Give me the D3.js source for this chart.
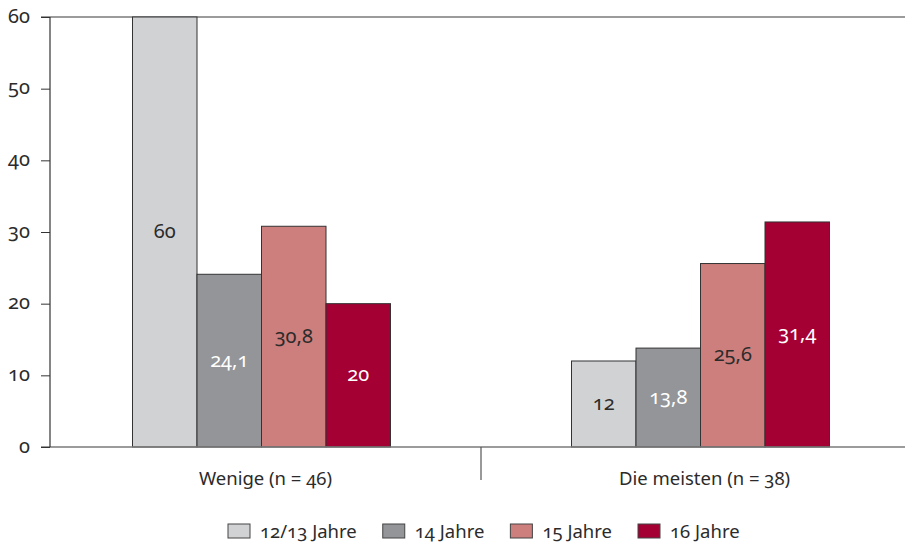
<!DOCTYPE html>
<html>
<head>
<meta charset="utf-8">
<script src="https://cdn.jsdelivr.net/npm/d3@7"></script>
<style>
  html, body { margin: 0; padding: 0; background: #fff; }
  svg text { font-family: "Noto Sans", "Open Sans", sans-serif; font-variant-numeric: oldstyle-nums; fill: #2b2b2b; }
</style>
</head>
<body>
<svg id="chart" width="905" height="544"></svg>
<script>
// Groups along the x axis
const categories = ["Wenige (n = 46)", "Die meisten (n = 38)"];
// Age groups (series)
const seriesNames = ["12/13 Jahre", "14 Jahre", "15 Jahre", "16 Jahre"];
// Values per series, one entry per category
const values1213 = [60, 12];
const values14 = [24.1, 13.8];
const values15 = [30.8, 25.6];
const values16 = [20, 31.4];
const yTicks = [0, 10, 20, 30, 40, 50, 60];

const seriesValues = [values1213, values14, values15, values16];
const colors = ["#d1d2d4", "#939598", "#cd7f7d", "#a50034"];
const labelColors = ["#2b2b2b", "#ffffff", "#2b2b2b", "#ffffff"];

const svg = d3.select("#chart");
const plotLeft = 50, plotRight = 905, plotTop = 17, plotBottom = 447;
const numSize = 20, textSize = 18.5;

const y = d3.scaleLinear().domain([0, 60]).range([plotBottom, plotTop]);
const x0 = d3.scaleBand().domain(categories).range([42, 920]).padding(0);
const groupWidth = 258;
const x1 = d3.scaleBand().domain(seriesNames).range([0, groupWidth]).padding(0);

const fmt = v => String(v).replace(".", ",");

// Frame line at the top of the plot
svg.append("line")
  .attr("x1", 41).attr("x2", plotRight).attr("y1", y(60)).attr("y2", y(60))
  .attr("stroke", "#7a7a7a").attr("stroke-width", 1.5);

// Bars
const groups = svg.append("g").selectAll("g")
  .data(categories)
  .join("g")
  .attr("transform", c => `translate(${x0(c) + (x0.bandwidth() - groupWidth) / 2},0)`);

const cells = (c, ci) => seriesNames.map((s, si) => ({ s, si, v: seriesValues[si][ci] }));

groups.selectAll("rect")
  .data(cells)
  .join("rect")
  .attr("x", d => x1(d.s))
  .attr("width", x1.bandwidth())
  .attr("y", d => y(d.v))
  .attr("height", d => y(0) - y(d.v))
  .attr("fill", d => colors[d.si])
  .attr("stroke", "#333")
  .attr("stroke-width", 1);

groups.selectAll("text.val")
  .data(cells)
  .join("text")
  .attr("class", "val")
  .attr("x", d => x1(d.s) + x1.bandwidth() / 2)
  .attr("y", d => (y(d.v) + y(0)) / 2)
  .attr("dy", "0.3em")
  .attr("text-anchor", "middle")
  .attr("font-size", numSize)
  .style("fill", d => labelColors[d.si])
  .text(d => fmt(d.v));

// Bottom axis line
svg.append("line")
  .attr("x1", 41).attr("x2", plotRight).attr("y1", y(0)).attr("y2", y(0))
  .attr("stroke", "#7a7a7a").attr("stroke-width", 1.5);

// Y axis
const yAxis = svg.append("g")
  .attr("transform", `translate(${plotLeft},0)`)
  .call(d3.axisLeft(y).tickValues(yTicks).tickSize(9).tickPadding(11));
yAxis.select(".domain").remove();
yAxis.selectAll(".tick line").attr("stroke", "#333").attr("stroke-width", 1);
yAxis.selectAll(".tick text").attr("font-size", numSize).attr("font-family", null)
  .attr("dy", "0.25em").style("fill", "#2b2b2b");
svg.append("line")
  .attr("x1", plotLeft).attr("x2", plotLeft).attr("y1", y(60)).attr("y2", y(0))
  .attr("stroke", "#333").attr("stroke-width", 1.2);

// Category labels and separator
svg.append("g").selectAll("text")
  .data(categories)
  .join("text")
  .attr("x", c => x0(c) + x0.bandwidth() / 2 + 4)
  .attr("y", 485)
  .attr("text-anchor", "middle")
  .attr("font-size", textSize)
  .text(c => c);

svg.append("line")
  .attr("x1", x0(categories[1])).attr("x2", x0(categories[1]))
  .attr("y1", y(0)).attr("y2", 480)
  .attr("stroke", "#555").attr("stroke-width", 1.2);

// Legend
const legend = svg.append("g").attr("transform", "translate(228,524)");
let lx = 0;
seriesNames.forEach((s, i) => {
  const item = legend.append("g").attr("transform", `translate(${lx},0)`);
  item.append("rect").attr("width", 22).attr("height", 14)
    .attr("fill", colors[i]).attr("stroke", "#444").attr("stroke-width", 1);
  const t = item.append("text").attr("x", 32).attr("y", 14).attr("font-size", textSize).text(s);
  lx += 32 + t.node().getComputedTextLength() + 26;
});
</script>
</body>
</html>
